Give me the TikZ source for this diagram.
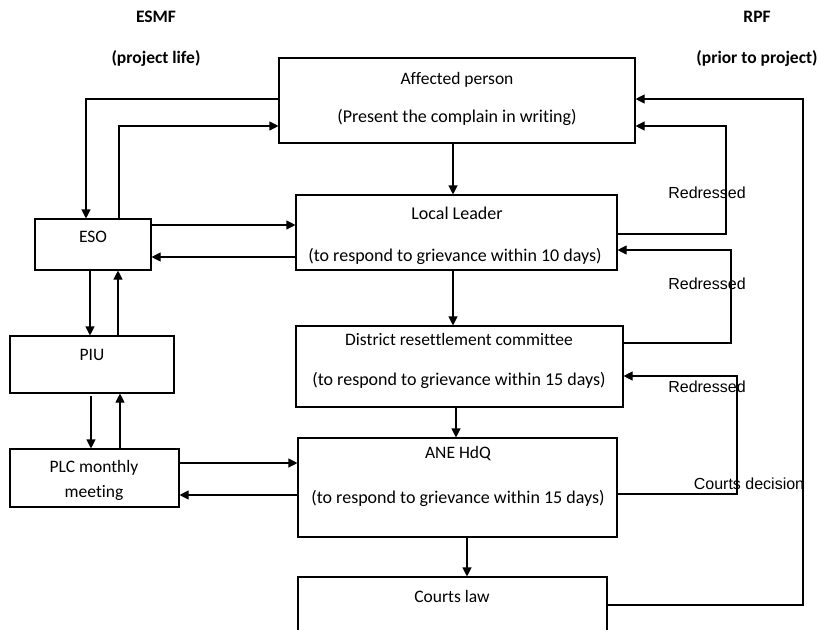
\documentclass[tikz,border=0pt]{standalone}
\usepackage{fontspec}
\setmainfont{Carlito}[Ligatures={NoCommon}]
\newfontfamily\arialfont{Liberation Sans}
\usetikzlibrary{arrows.meta}
\begin{document}
\begin{tikzpicture}[x=1pt,y=-1pt,
  box/.style={draw, line width=1.1pt, inner sep=0pt, rectangle},
  txt/.style={inner sep=0pt, font=\fontsize{17.5}{21}\selectfont},
  ltxt/.style={inner sep=0pt, font=\fontsize{18}{21}\selectfont},
  hdr/.style={inner sep=0pt, font=\fontsize{17.5}{21}\selectfont\bfseries},
  lbl/.style={inner sep=0pt, font=\arialfont\fontsize{16}{19}\selectfont},
  arr/.style={line width=1.1pt, -{Triangle[length=9pt,width=9pt]}}]
\useasboundingbox (0,0) rectangle (818,629);
\clip (0,0) rectangle (818,629);
\fill[white] (0,0) rectangle (818,629);

% headers
\node[hdr] (h1) at (156,16.5) {ESMF};
\node[hdr] (h2) at (156,58) {(project life)};
\node[hdr] (h3) at (757,17) {RPF};
\node[hdr] (h4) at (757,58) {(prior to project)};

% main column boxes
\node[box, minimum width=356pt, minimum height=85pt] (aff) at (457,100.5) {};
\node[txt] (aff1) at (457,80) {Affected person};
\node[ltxt] (aff2) at (457,117) {(Present the complain in writing)};

\node[box, minimum width=321pt, minimum height=75pt] (ll) at (456.5,232.5) {};
\node[ltxt] (ll1) at (457,213) {Local Leader};
\node[ltxt] (ll2) at (455,256) {(to respond to grievance within 10 days)};

\node[box, minimum width=327pt, minimum height=81pt] (drc) at (459.5,366.5) {};
\node[txt] (drc1) at (459,339) {District resettlement committee};
\node[ltxt] (drc2) at (459,380) {(to respond to grievance within 15 days)};

\node[box, minimum width=319pt, minimum height=99pt] (ane) at (457.5,487.5) {};
\node[txt] (ane1) at (458,454) {ANE HdQ};
\node[ltxt] (ane2) at (458,498) {(to respond to grievance within 15 days)};

\node[box, minimum width=309pt, minimum height=70pt] (crt) at (452.5,612) {};
\node[txt] (crt1) at (452,596) {Courts law};

% left column boxes
\node[box, minimum width=116pt, minimum height=51pt] (eso) at (93,244.5) {};
\node[txt] (eso1) at (93,237) {ESO};

\node[box, minimum width=164pt, minimum height=57pt] (piu) at (92,364.5) {};
\node[txt] (piu1) at (92,355) {PIU};

\node[box, minimum width=169pt, minimum height=58pt] (plc) at (94.5,478) {};
\node[txt] (plc1) at (94,468) {PLC monthly};
\node[txt] (plc2) at (94,493) {meeting};

% main vertical flow
\draw[arr] (aff.south -| 453,0) -- (ll.north -| 453,0);
\draw[arr] (ll.south -| 453,0) -- (drc.north -| 453,0);
\draw[arr] (drc.south -| 456,0) -- (ane.north -| 456,0);
\draw[arr] (ane.south -| 467,0) -- (crt.north -| 467,0);

% left side links
\draw[arr] (aff.west |- 0,99) -| (eso.north -| 86,0);
\draw[arr] (eso.north -| 119,0) |- (aff.west |- 0,126);
\draw[arr] (eso.east |- 0,225) -- (ll.west |- 0,225);
\draw[arr] (ll.west |- 0,257) -- (eso.east |- 0,257);
\draw[arr] (eso.south -| 90,0) -- (piu.north -| 90,0);
\draw[arr] (piu.north -| 118,0) -- (eso.south -| 118,0);
\draw[arr] (91,396) -- (plc.north -| 91,0);
\draw[arr] (plc.north -| 120,0) -- (piu.south -| 120,0);
\draw[arr] (plc.east |- 0,463) -- (ane.west |- 0,463);
\draw[arr] (ane.west |- 0,495) -- (plc.east |- 0,495);

% right side feedback
\draw[arr] (ll.east |- 0,234) -- (726,234) |- (aff.east |- 0,126);
\draw[arr] (drc.east |- 0,343) -- (731,343) |- (ll.east |- 0,250);
\draw[arr] (ane.east |- 0,494) -- (737,494) |- (drc.east |- 0,376);
\draw[arr] (crt.east |- 0,605) -- (803,605) |- (aff.east |- 0,99);

% labels
\node[lbl] (r1) at (707,193) {Redressed};
\node[lbl] (r2) at (707,284) {Redressed};
\node[lbl] (r3) at (707,387) {Redressed};
\node[lbl] (cd) at (749,484) {Courts decision};
\end{tikzpicture}
\end{document}
